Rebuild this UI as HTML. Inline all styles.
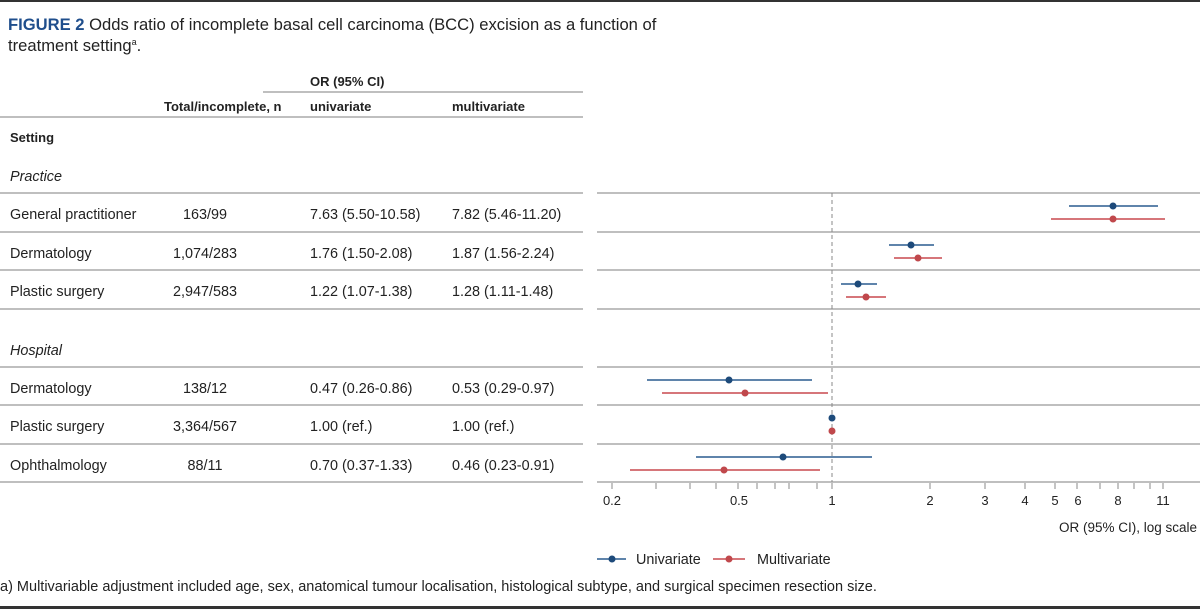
<!DOCTYPE html>
<html><head><meta charset="utf-8"><style>
body{margin:0;width:1200px;height:609px;background:#fff;overflow:hidden;font-family:"Liberation Sans",sans-serif;}
svg text{font-family:"Liberation Sans",sans-serif;fill:#222;}
</style></head><body>
<svg width="1200" height="609" xmlns="http://www.w3.org/2000/svg">
<rect x="0" y="0" width="1200" height="2" fill="#333"/>
<rect x="0" y="606" width="1200" height="3" fill="#333"/>
<text x="8" y="30" font-size="16.6"><tspan font-weight="bold" style="fill:#1f4e8c">FIGURE 2</tspan> Odds ratio of incomplete basal cell carcinoma (BCC) excision as a function of</text>
<text x="8" y="51" font-size="16.6">treatment setting<tspan font-size="9" dy="-6">a</tspan><tspan dy="6">.</tspan></text>
<g font-size="13" font-weight="bold">
<text x="310" y="86">OR (95% CI)</text>
<text x="164" y="111">Total/incomplete, n</text>
<text x="310" y="111">univariate</text>
<text x="452" y="111">multivariate</text>
<text x="10" y="142">Setting</text>
</g>
<g stroke="#aaa" stroke-width="1.5">
<line x1="263" y1="92" x2="583" y2="92"/>
<line x1="0" y1="117" x2="583" y2="117"/>
<line x1="0" y1="193" x2="583" y2="193"/><line x1="597" y1="193" x2="1200" y2="193"/>
<line x1="0" y1="232" x2="583" y2="232"/><line x1="597" y1="232" x2="1200" y2="232"/>
<line x1="0" y1="270" x2="583" y2="270"/><line x1="597" y1="270" x2="1200" y2="270"/>
<line x1="0" y1="309" x2="583" y2="309"/><line x1="597" y1="309" x2="1200" y2="309"/>
<line x1="0" y1="367" x2="583" y2="367"/><line x1="597" y1="367" x2="1200" y2="367"/>
<line x1="0" y1="405" x2="583" y2="405"/><line x1="597" y1="405" x2="1200" y2="405"/>
<line x1="0" y1="444" x2="583" y2="444"/><line x1="597" y1="444" x2="1200" y2="444"/>
<line x1="0" y1="482" x2="583" y2="482"/><line x1="597" y1="482" x2="1200" y2="482"/>
</g>
<g font-size="14.4">
<text x="10" y="181" font-style="italic">Practice</text>
<text x="10" y="355" font-style="italic">Hospital</text>
<text x="10" y="219">General practitioner</text><text x="205" y="219" text-anchor="middle">163/99</text><text x="310" y="219">7.63 (5.50-10.58)</text><text x="452" y="219">7.82 (5.46-11.20)</text>
<text x="10" y="258">Dermatology</text><text x="205" y="258" text-anchor="middle">1,074/283</text><text x="310" y="258">1.76 (1.50-2.08)</text><text x="452" y="258">1.87 (1.56-2.24)</text>
<text x="10" y="296">Plastic surgery</text><text x="205" y="296" text-anchor="middle">2,947/583</text><text x="310" y="296">1.22 (1.07-1.38)</text><text x="452" y="296">1.28 (1.11-1.48)</text>
<text x="10" y="393">Dermatology</text><text x="205" y="393" text-anchor="middle">138/12</text><text x="310" y="393">0.47 (0.26-0.86)</text><text x="452" y="393">0.53 (0.29-0.97)</text>
<text x="10" y="431">Plastic surgery</text><text x="205" y="431" text-anchor="middle">3,364/567</text><text x="310" y="431">1.00 (ref.)</text><text x="452" y="431">1.00 (ref.)</text>
<text x="10" y="470">Ophthalmology</text><text x="205" y="470" text-anchor="middle">88/11</text><text x="310" y="470">0.70 (0.37-1.33)</text><text x="452" y="470">0.46 (0.23-0.91)</text>
</g>
<line x1="832" y1="193" x2="832" y2="482" stroke="#888" stroke-dasharray="4,3"/>
<g stroke="#888" stroke-width="1">
<line x1="612" y1="483" x2="612" y2="489"/><line x1="656" y1="483" x2="656" y2="489"/><line x1="690" y1="483" x2="690" y2="489"/><line x1="716" y1="483" x2="716" y2="489"/><line x1="738" y1="483" x2="738" y2="489"/><line x1="757" y1="483" x2="757" y2="489"/><line x1="775" y1="483" x2="775" y2="489"/><line x1="789" y1="483" x2="789" y2="489"/><line x1="817" y1="483" x2="817" y2="489"/><line x1="832" y1="483" x2="832" y2="489"/>
<line x1="930" y1="483" x2="930" y2="489"/><line x1="985" y1="483" x2="985" y2="489"/><line x1="1025" y1="483" x2="1025" y2="489"/><line x1="1055" y1="483" x2="1055" y2="489"/><line x1="1077" y1="483" x2="1077" y2="489"/><line x1="1100" y1="483" x2="1100" y2="489"/><line x1="1118" y1="483" x2="1118" y2="489"/><line x1="1134" y1="483" x2="1134" y2="489"/><line x1="1150" y1="483" x2="1150" y2="489"/><line x1="1163" y1="483" x2="1163" y2="489"/>
</g>
<g font-size="13" text-anchor="middle">
<text x="612" y="505">0.2</text><text x="739" y="505">0.5</text><text x="832" y="505">1</text><text x="930" y="505">2</text><text x="985" y="505">3</text><text x="1025" y="505">4</text><text x="1055" y="505">5</text><text x="1078" y="505">6</text><text x="1118" y="505">8</text><text x="1163" y="505">11</text>
</g>
<text x="1197" y="532" font-size="13.5" text-anchor="end">OR (95% CI), log scale</text>
<g stroke-width="1.5">
<line x1="1069" y1="206" x2="1158" y2="206" stroke="#2a5b8f"/><circle cx="1113" cy="206" r="3.5" fill="#1d4a7a"/>
<line x1="1051" y1="219" x2="1165" y2="219" stroke="#c9494e"/><circle cx="1113" cy="219" r="3.5" fill="#c0484c"/>
<line x1="889" y1="245" x2="934" y2="245" stroke="#2a5b8f"/><circle cx="911" cy="245" r="3.5" fill="#1d4a7a"/>
<line x1="894" y1="258" x2="942" y2="258" stroke="#c9494e"/><circle cx="918" cy="258" r="3.5" fill="#c0484c"/>
<line x1="841" y1="284" x2="877" y2="284" stroke="#2a5b8f"/><circle cx="858" cy="284" r="3.5" fill="#1d4a7a"/>
<line x1="846" y1="297" x2="886" y2="297" stroke="#c9494e"/><circle cx="866" cy="297" r="3.5" fill="#c0484c"/>
<line x1="647" y1="380" x2="812" y2="380" stroke="#2a5b8f"/><circle cx="729" cy="380" r="3.5" fill="#1d4a7a"/>
<line x1="662" y1="393" x2="828" y2="393" stroke="#c9494e"/><circle cx="745" cy="393" r="3.5" fill="#c0484c"/>
<circle cx="832" cy="418" r="3.5" fill="#1d4a7a"/>
<circle cx="832" cy="431" r="3.5" fill="#c0484c"/>
<line x1="696" y1="457" x2="872" y2="457" stroke="#2a5b8f"/><circle cx="783" cy="457" r="3.5" fill="#1d4a7a"/>
<line x1="630" y1="470" x2="820" y2="470" stroke="#c9494e"/><circle cx="724" cy="470" r="3.5" fill="#c0484c"/>
<line x1="597" y1="559" x2="626" y2="559" stroke="#2a5b8f"/><circle cx="612" cy="559" r="3.5" fill="#1d4a7a"/>
<line x1="713" y1="559" x2="745" y2="559" stroke="#c9494e"/><circle cx="729" cy="559" r="3.5" fill="#c0484c"/>
</g>
<text x="636" y="564" font-size="14.4">Univariate</text>
<text x="757" y="564" font-size="14.4">Multivariate</text>
<text x="0" y="591" font-size="14.5">a) Multivariable adjustment included age, sex, anatomical tumour localisation, histological subtype, and surgical specimen resection size.</text>
</svg>
</body></html>
